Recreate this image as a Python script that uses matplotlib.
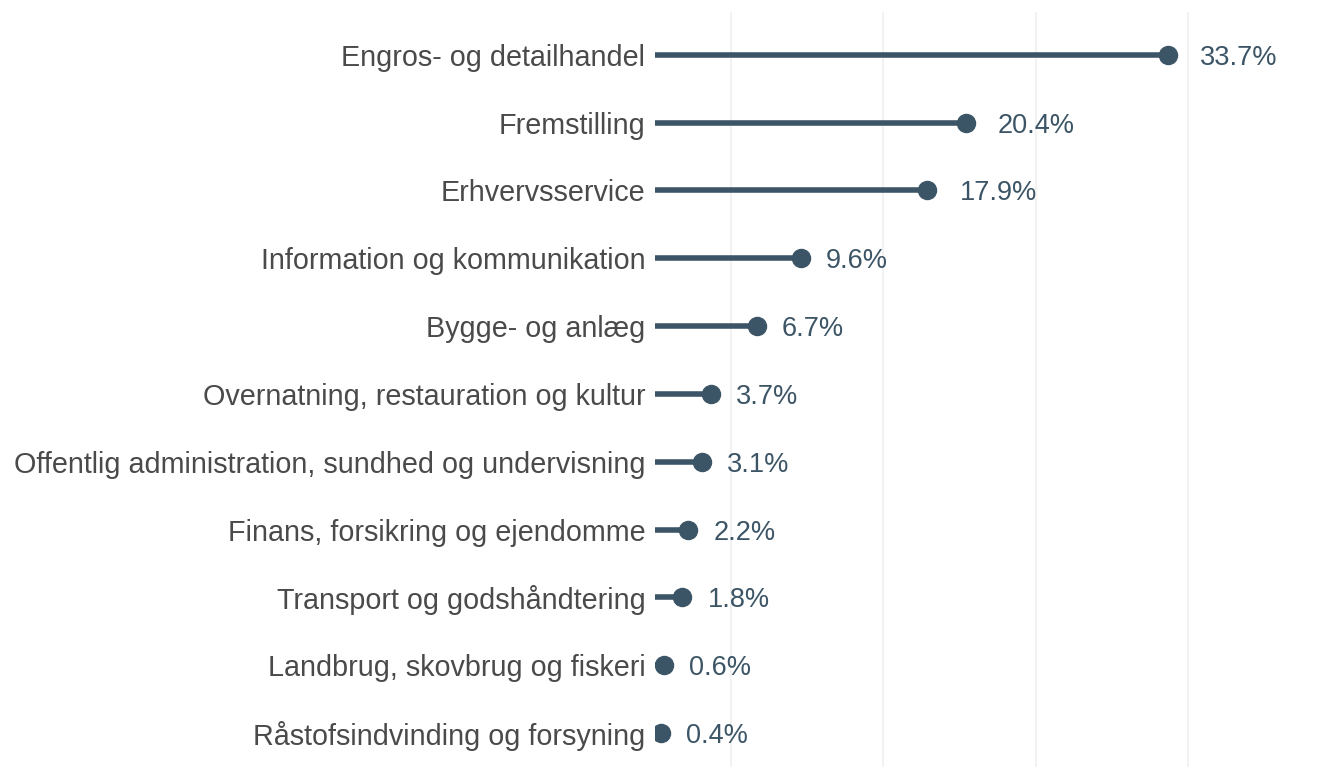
import matplotlib
matplotlib.use("Agg")
import matplotlib.pyplot as plt

# sectors, top to bottom
sectors = [
    "Engros- og detailhandel",
    "Fremstilling",
    "Erhvervsservice",
    "Information og kommunikation",
    "Bygge- og anlæg",
    "Overnatning, restauration og kultur",
    "Offentlig administration, sundhed og undervisning",
    "Finans, forsikring og ejendomme",
    "Transport og godshåndtering",
    "Landbrug, skovbrug og fiskeri",
    "Råstofsindvinding og forsyning",
]
shares = [33.7, 20.4, 17.9, 9.6, 6.7, 3.7, 3.1, 2.2, 1.8, 0.6, 0.4]

LINE_COLOR = "#3c5566"
LABEL_COLOR = "#4a4a4a"
GRID_COLOR = "#f0f0f0"

plt.rcParams["font.family"] = ["Liberation Sans", "DejaVu Sans"]


def main():
    fig = plt.figure(figsize=(13.4, 7.67), dpi=100)
    ax = fig.add_axes([655 / 1340, 0, 1 - 655 / 1340, (767 - 12) / 767])

    n = len(sectors)
    ys = list(range(n - 1, -1, -1))

    ax.hlines(ys, 0, shares, color=LINE_COLOR, linewidth=4, zorder=3)
    ax.plot(shares, ys, "o", color=LINE_COLOR, markersize=13, zorder=4)

    for y, v in zip(ys, shares):
        # labels sit a bit closer to the dot when there is only one digit
        offset = 23 if v >= 10 else 18
        ax.annotate(f"{v}%", (v, y), xytext=(offset, 0), textcoords="offset points",
                    va="center_baseline", ha="left", fontsize=19.5, color=LINE_COLOR,
                    annotation_clip=False)

    ax.set_xlim(0, 45)
    ax.set_ylim(-0.5, n - 1 + 0.63)

    ax.set_xticks([5, 15, 25, 35])
    ax.set_xticklabels([])
    ax.tick_params(axis="x", length=0)
    ax.grid(axis="x", color=GRID_COLOR, linewidth=1.2, zorder=0)

    ax.set_yticks(ys)
    ax.set_yticklabels(sectors, fontsize=20.7, color=LABEL_COLOR)
    ax.tick_params(axis="y", length=0, pad=7)

    for spine in ax.spines.values():
        spine.set_visible(False)

    fig.savefig("out.png", dpi=100)


if __name__ == "__main__":
    main()
